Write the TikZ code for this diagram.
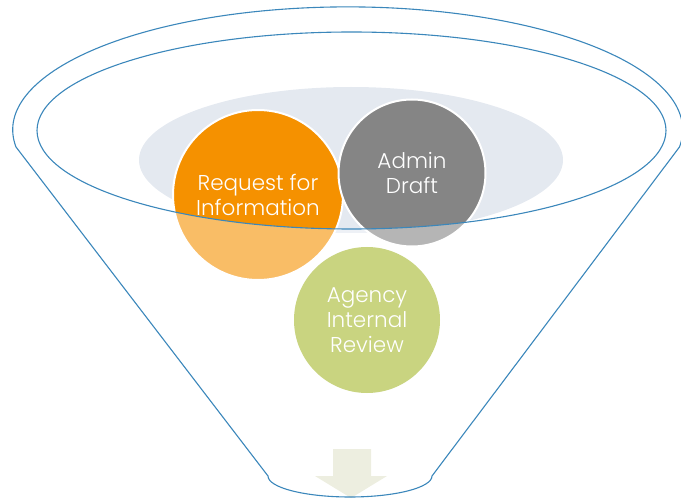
\documentclass[tikz,border=0pt]{standalone}
\usepackage{fontspec}
\setmainfont{Poppins Light}
\usepackage{tikz}
\usetikzlibrary{shapes.geometric,positioning}
\definecolor{funnelblue}{HTML}{3B87BB}
\definecolor{mistblue}{HTML}{E4E9F0}
\definecolor{rfiorange}{HTML}{F59100}
\definecolor{draftgray}{HTML}{858585}
\definecolor{reviewgreen}{HTML}{C9D480}
\definecolor{arrowbeige}{HTML}{EDEEE0}
\tikzset
{
	funnelline/.style = {draw=funnelblue, line width=1.1pt},
	stagenode/.style  = {circle, inner sep=0pt, align=center, text=white, font=\fontsize{21.5}{25}\selectfont},
	rimnode/.style    = {stagenode, draw=white, line width=2pt},
	veil/.style       = {fill=white, fill opacity=0.4, even odd rule}
}
\newcommand\funnelpath{(16,147) arc[start angle=172, end angle=368, x radius=335, y radius=123] -- (432,476) arc[start angle=0, end angle=180, x radius=82, y radius=21] -- cycle}

\begin{document}
\begin{tikzpicture}[x=1pt, y=-1pt]
\useasboundingbox (0,0) rectangle (681,500);
% mouth of the funnel
\fill[mistblue] (351,160) ellipse [x radius=212, y radius=73];
\node[rimnode, fill=rfiorange, minimum size=170] (rfi) at (258,195) {Request for\\Information};
\node[rimnode, fill=draftgray, minimum size=147] (draft) at (412,173) {Admin\\Draft};
% front of the funnel
\path[veil] \funnelpath (351.5,130.5) ellipse [x radius=314.5, y radius=98.5];
\node[stagenode, fill=reviewgreen, minimum size=146] (review) at (367,320) {Agency\\Internal\\Review};
% outlet
\fill[arrowbeige] (333,449) -- (371,449) -- (371,476) -- (387,476) -- (351,498) -- (315,476) -- (333,476) -- cycle;
\draw[funnelline] \funnelpath;
\draw[funnelline] (351.5,130.5) ellipse [x radius=314.5, y radius=98.5];
\end{tikzpicture}
\end{document}
